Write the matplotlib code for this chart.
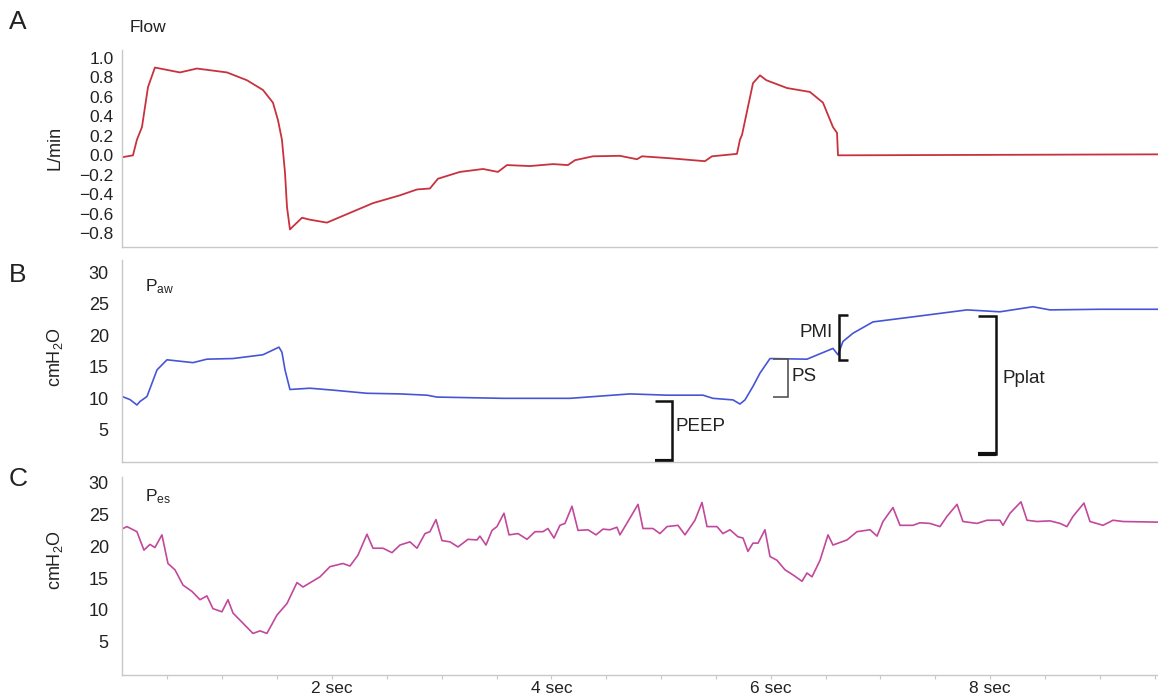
import matplotlib
matplotlib.use("Agg")
import matplotlib.pyplot as plt
import numpy as np

plt.rcParams['font.family'] = ['Liberation Sans', 'DejaVu Sans']
plt.rcParams['mathtext.default'] = 'regular'

# ---------------- data (time in seconds) ----------------
flow_t = [0.086, 0.186, 0.222, 0.268, 0.323, 0.386, 0.478, 0.614, 0.769, 1.043,
          1.225, 1.371, 1.462, 1.508, 1.544, 1.572, 1.590, 1.617, 1.644, 1.727,
          1.799, 1.954, 2.164, 2.374, 2.620, 2.775, 2.893, 2.966, 3.167, 3.377,
          3.513, 3.595, 3.805, 4.015, 4.151, 4.215, 4.379, 4.625, 4.780, 4.826,
          5.081, 5.291, 5.400, 5.464, 5.692, 5.719, 5.738, 5.838, 5.902, 5.960,
          6.148, 6.357, 6.476, 6.567, 6.604, 6.613, 9.53]
flow_v = [-0.02, 0.00, 0.16, 0.29, 0.70, 0.90, 0.88, 0.85, 0.89, 0.85,
          0.77, 0.67, 0.54, 0.36, 0.16, -0.18, -0.53, -0.76, -0.73, -0.64,
          -0.66, -0.69, -0.59, -0.49, -0.41, -0.35, -0.34, -0.24, -0.17, -0.14,
          -0.17, -0.10, -0.11, -0.09, -0.10, -0.05, -0.01, -0.005, -0.04, -0.01,
          -0.03, -0.05, -0.06, -0.01, 0.015, 0.16, 0.21, 0.74, 0.82, 0.77,
          0.69, 0.65, 0.54, 0.29, 0.23, 0.00, 0.01]

paw_t = [0.086, 0.159, 0.222, 0.250, 0.314, 0.405, 0.496, 0.733, 0.860, 1.098,
         1.371, 1.517, 1.544, 1.572, 1.617, 1.799, 2.009, 2.319, 2.620, 2.866,
         2.957, 3.559, 4.170, 4.717, 5.054, 5.382, 5.473, 5.656, 5.719, 5.765,
         5.838, 5.902, 5.993, 6.330, 6.567, 6.613, 6.658, 6.749, 6.932, 7.296,
         7.789, 8.089, 8.390, 8.545, 9.001, 9.53]
paw_v = [10.3, 9.8, 8.95, 9.5, 10.3, 14.5, 16.1, 15.65, 16.2, 16.3,
         16.9, 18.1, 17.3, 14.5, 11.4, 11.6, 11.3, 10.8, 10.7, 10.5,
         10.2, 10.0, 10.0, 10.7, 10.5, 10.5, 10.0, 9.75, 9.1, 9.75,
         11.9, 14.0, 16.3, 16.2, 17.9, 16.9, 19.0, 20.3, 22.1, 22.9,
         24.0, 23.7, 24.5, 24.0, 24.1, 24.1]

pes_t = [0.095, 0.131, 0.222, 0.286, 0.341, 0.386, 0.450, 0.505, 0.569, 0.642,
         0.724, 0.797, 0.860, 0.915, 0.997, 1.052, 1.098, 1.189, 1.280, 1.344,
         1.407, 1.499, 1.590, 1.681, 1.736, 1.891, 1.982, 2.100, 2.164, 2.237,
         2.319, 2.374, 2.465, 2.547, 2.620, 2.711, 2.775, 2.848, 2.893, 2.948,
         3.003, 3.076, 3.149, 3.240, 3.322, 3.349, 3.404, 3.459, 3.504, 3.568,
         3.614, 3.696, 3.778, 3.851, 3.923, 3.969, 4.024, 4.078, 4.124, 4.188,
         4.243, 4.334, 4.407, 4.470, 4.534, 4.598, 4.625, 4.698, 4.790, 4.835,
         4.926, 4.990, 5.054, 5.154, 5.218, 5.309, 5.373, 5.419, 5.510, 5.564,
         5.628, 5.701, 5.747, 5.792, 5.838, 5.884, 5.947, 5.993, 6.057, 6.130,
         6.203, 6.285, 6.330, 6.376, 6.449, 6.522, 6.567, 6.695, 6.786, 6.905,
         6.969, 7.023, 7.114, 7.178, 7.296, 7.360, 7.451, 7.543, 7.606, 7.698,
         7.752, 7.880, 7.971, 8.089, 8.117, 8.181, 8.281, 8.336, 8.427, 8.545,
         8.637, 8.700, 8.755, 8.855, 8.910, 9.029, 9.120, 9.211, 9.53]
pes_v = [22.8, 23.1, 22.3, 19.4, 20.3, 19.8, 21.8, 17.3, 16.3, 13.9,
         12.9, 11.6, 12.2, 10.2, 9.7, 11.6, 9.5, 7.9, 6.3, 6.7,
         6.3, 9.2, 11.0, 14.3, 13.6, 15.2, 16.8, 17.3, 16.9, 18.6,
         21.9, 19.7, 19.7, 19.0, 20.2, 20.7, 19.7, 22.0, 22.3, 24.2,
         20.9, 20.7, 19.9, 21.1, 21.0, 21.6, 20.2, 22.5, 23.1, 25.2,
         21.8, 22.0, 21.1, 22.3, 22.3, 22.8, 21.3, 23.3, 23.6, 26.3,
         22.5, 22.6, 21.8, 22.7, 22.6, 23.0, 21.8, 23.9, 26.6, 22.8,
         22.8, 22.0, 23.1, 23.3, 21.8, 24.1, 26.9, 23.1, 23.1, 22.0,
         22.6, 21.5, 21.3, 19.2, 20.5, 20.5, 22.6, 18.4, 17.8, 16.3,
         15.5, 14.5, 15.8, 15.2, 17.8, 21.8, 20.2, 21.0, 22.3, 22.6,
         21.6, 23.9, 26.1, 23.3, 23.3, 23.7, 23.6, 23.1, 24.7, 26.6,
         23.9, 23.6, 24.1, 24.1, 23.3, 25.2, 27.0, 24.1, 23.9, 24.0,
         23.6, 23.1, 24.7, 26.8, 23.9, 23.3, 24.1, 23.9, 23.8]

flow_ticks = [1.0, 0.8, 0.6, 0.4, 0.2, 0.0, -0.2, -0.4, -0.6, -0.8]
press_ticks = [5, 10, 15, 20, 25, 30]
time_labels = {2: "2 sec", 4: "4 sec", 6: "6 sec", 8: "8 sec"}

# brackets: (name, t_vertical, t_hook, y_top, y_bottom)
brackets = [("PEEP", 5.099, 4.944, 9.5, 0.1),
            ("PS", 6.157, 6.020, 16.2, 10.2),
            ("PMI", 6.622, 6.704, 23.2, 16.1),
            ("Pplat", 8.053, 7.889, 23.0, 1.2)]

# ---------------- figure ----------------
W, H = 1158, 700
fig = plt.figure(figsize=(W / 100, H / 100), dpi=100)

def fx(px):
    return px / W

def fy(py):
    return 1 - py / H

XL = (0.086, 9.53)
spine_c = '#c8c8c8'
txt_c = '#222222'

def make_ax(top, bottom):
    ax = fig.add_axes([fx(122), fy(bottom), fx(1158) - fx(122), fy(top) - fy(bottom)])
    for s in ['top', 'right']:
        ax.spines[s].set_visible(False)
    for s in ['left', 'bottom']:
        ax.spines[s].set_color(spine_c)
        ax.spines[s].set_linewidth(1.0)
    ax.set_xlim(*XL)
    ax.tick_params(axis='y', length=0, colors=txt_c)
    return ax

axA = make_ax(50, 247)
axB = make_ax(260, 461.5)
axC = make_ax(477, 675)

axA.plot(flow_t, flow_v, color='#c8323e', lw=1.3)
axA.set_ylim(-0.94, 1.08)
axA.set_yticks(flow_ticks)
axA.set_yticklabels([f"{v:.1f}".replace('-', '\u2212') for v in flow_ticks], fontsize=12.5)
axA.tick_params(axis='y', pad=6)
axA.set_xticks([])

axB.plot(paw_t, paw_v, color='#4655d6', lw=1.2)
axB.set_ylim(0, 31.9)
axB.set_yticks(press_ticks)
axB.set_yticklabels([str(v) for v in press_ticks], fontsize=13)
axB.tick_params(axis='y', pad=9.5)
axB.set_xticks([])

axC.plot(pes_t, pes_v, color='#c2489c', lw=1.2)
axC.set_ylim(-0.24, 30.9)
axC.set_yticks(press_ticks)
axC.set_yticklabels([str(v) for v in press_ticks], fontsize=13)
axC.tick_params(axis='y', pad=9.5)
xt = list(np.arange(0.5, 9.51, 0.5))
axC.set_xticks(xt)
axC.set_xticklabels([time_labels.get(int(t), "") if float(t).is_integer() else "" for t in xt],
                    fontsize=12.5)
axC.tick_params(axis='x', length=3, color=spine_c, pad=1.5, labelcolor=txt_c)

# brackets
for name, tv, th, yt, yb in brackets:
    col = '#555555' if name == "PS" else '#111111'
    lw = 1.2 if name == "PS" else 1.8
    axB.plot([th, tv, tv, th], [yt, yt, yb, yb], color=col, lw=lw,
             solid_joinstyle='miter', solid_capstyle='butt')
    if name in ("PEEP", "Pplat"):
        axB.plot([th, tv], [yb, yb], color=col, lw=3.0, solid_capstyle='butt')

axB.text(5.135, 5.5, "PEEP", fontsize=13.5, va='center', ha='left', color=txt_c)
axB.text(6.193, 13.4, "PS", fontsize=13.5, va='center', ha='left', color=txt_c)
axB.text(6.567, 20.5, "PMI", fontsize=13.5, va='center', ha='right', color=txt_c)
axB.text(8.117, 13.2, "Pplat", fontsize=13.5, va='center', ha='left', color=txt_c)

# panel letters and labels
for letter, py in (("A", 22), ("B", 275), ("C", 479)):
    fig.text(fx(9), fy(py), letter, fontsize=19, va='center', ha='left', color=txt_c)

fig.text(fx(130), fy(28), "Flow", fontsize=12.5, va='center', ha='left', color=txt_c)
fig.text(fx(145), fy(287), "P$_{aw}$", fontsize=12.5, va='center', ha='left', color=txt_c)
fig.text(fx(145), fy(497), "P$_{es}$", fontsize=12.5, va='center', ha='left', color=txt_c)

fig.text(fx(55), fy(148), "L/min", fontsize=13, rotation=90, va='center', ha='center', color=txt_c)
fig.text(fx(55), fy(357), "cmH$_2$O", fontsize=13, rotation=90, va='center', ha='center', color=txt_c)
fig.text(fx(55), fy(560), "cmH$_2$O", fontsize=13, rotation=90, va='center', ha='center', color=txt_c)

fig.savefig("out.png", dpi=100)
